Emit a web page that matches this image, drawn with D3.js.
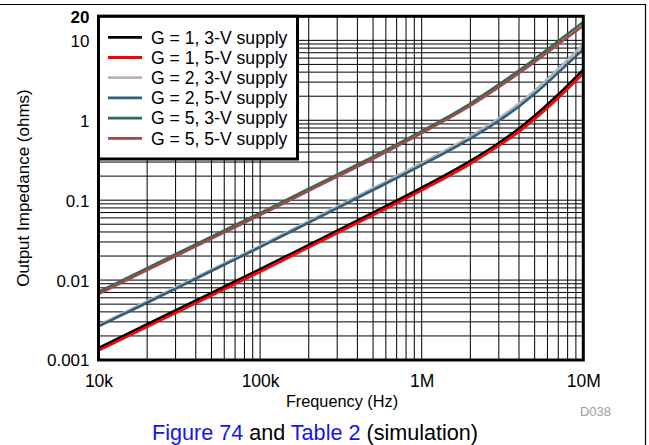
<!DOCTYPE html>
<html>
<head>
<meta charset="utf-8">
<script src="https://cdn.jsdelivr.net/npm/d3@7"></script>
<style>
  html, body { margin: 0; padding: 0; background: #fff; }
  svg { display: block; font-family: "Liberation Sans", Arial, sans-serif; }
</style>
</head>
<body>
<svg id="chart" width="649" height="445"></svg>
<script>
// ---------------- data ----------------
const freqs = [1e4, 2e4, 5e4, 1e5, 2e5, 5e5, 1e6, 2e6, 3e6, 4e6, 5e6, 7e6, 1e7];
const seriesNames = ["G = 1, 3-V supply", "G = 1, 5-V supply", "G = 2, 3-V supply",
                     "G = 2, 5-V supply", "G = 5, 3-V supply", "G = 5, 5-V supply"];
const g1v3 = [0.00141, 0.0028, 0.0069, 0.0137, 0.0276, 0.0698, 0.143, 0.31, 0.52, 0.79, 1.14, 2.1, 4.3];
const g1v5 = [0.00131, 0.0026, 0.0064, 0.0127, 0.0257, 0.065, 0.133, 0.285, 0.48, 0.72, 1.04, 1.9, 3.85];
const g2v3 = [0.00273, 0.0054, 0.0135, 0.0268, 0.0545, 0.141, 0.292, 0.63, 1.06, 1.62, 2.35, 4.4, 8.9];
const g2v5 = [0.00263, 0.0052, 0.013, 0.0258, 0.0525, 0.134, 0.275, 0.59, 0.985, 1.49, 2.14, 3.95, 7.75];
const g5v3 = [0.0071, 0.0141, 0.035, 0.069, 0.139, 0.35, 0.73, 1.62, 2.8, 4.2, 5.85, 9.8, 17];
const g5v5 = [0.0067, 0.0133, 0.033, 0.065, 0.131, 0.33, 0.69, 1.52, 2.6, 3.88, 5.35, 8.95, 15.3];
const seriesColors = ["#000000", "#ff0000", "#b4b4b4", "#2f5f7c", "#2e6e4c", "#a34848"];
const xTickValues = [1e4, 1e5, 1e6, 1e7];
const xTickLabels = ["10k", "100k", "1M", "10M"];
const yTickValues = [0.001, 0.01, 0.1, 1, 10, 20];
const yTickLabels = ["0.001", "0.01", "0.1", "1", "10", "20"];

const allSeries = [g1v3, g1v5, g2v3, g2v5, g5v3, g5v5];

// ---------------- layout ----------------
const svg = d3.select("#chart");
const L = 98.5, R = 583.3, T = 16.3, B = 360;
const x = d3.scaleLog().domain([1e4, 1e7]).range([L, R]);
const y = d3.scaleLog().domain([0.001, 20]).range([B, T]);

// outer frame (top and right edges)
svg.append("path")
  .attr("d", "M0,4.5 L645.5,4.5 L645.5,445")
  .attr("fill", "none").attr("stroke", "#000").attr("stroke-width", 1.2);

// grid lines
const gGrid = svg.append("g");
const xGrid = [];
for (let d = 1e4; d < 1e7; d *= 10) for (let k = 1; k < 10; k++) xGrid.push(d * k);
const yGrid = [];
for (let d = 0.001; d < 20; d *= 10) for (let k = 1; k < 10; k++) { const v = d * k; if (v < 20) yGrid.push(v); }
gGrid.selectAll("line.vx").data(xGrid).join("line")
  .attr("x1", d => x(d)).attr("x2", d => x(d))
  .attr("y1", T).attr("y2", B)
  .attr("stroke", "#000").attr("stroke-width", 1);
gGrid.selectAll("line.hy").data(yGrid).join("line")
  .attr("x1", L).attr("x2", R)
  .attr("y1", d => y(d)).attr("y2", d => y(d))
  .attr("stroke", "#000").attr("stroke-width", 1);

// curves
svg.append("clipPath").attr("id", "clip").append("rect")
  .attr("x", L).attr("y", T).attr("width", R - L).attr("height", B - T);
const line = d3.line().x(d => x(d[0])).y(d => y(d[1])).curve(d3.curveMonotoneX);
const gCurves = svg.append("g").attr("clip-path", "url(#clip)");
allSeries.forEach((vals, i) => {
  gCurves.append("path")
    .attr("d", line(freqs.map((f, j) => [f, vals[j]])))
    .attr("fill", "none").attr("stroke", seriesColors[i]).attr("stroke-width", 2.6);
});

// plot border
svg.append("rect").attr("x", L).attr("y", T).attr("width", R - L).attr("height", B - T)
  .attr("fill", "none").attr("stroke", "#000").attr("stroke-width", 3);

// legend
const lg = svg.append("g");
lg.append("rect").attr("x", 98.5).attr("y", 16.3).attr("width", 199).attr("height", 142.7)
  .attr("fill", "#fff").attr("stroke", "#000").attr("stroke-width", 3);
seriesNames.forEach((name, i) => {
  const cy = 37.3 + i * 20.2;
  lg.append("line").attr("x1", 108).attr("x2", 142).attr("y1", cy).attr("y2", cy)
    .attr("stroke", seriesColors[i]).attr("stroke-width", 2.8);
  lg.append("text").attr("x", 151).attr("y", cy + 6.2).attr("font-size", 17.6)
    .attr("fill", "#000").text(name);
});

// y axis
const yAxis = d3.axisLeft(y).tickValues(yTickValues).tickSize(0).tickPadding(0)
  .tickFormat((d, i) => yTickLabels[i]);
const gy = svg.append("g").attr("transform", "translate(89.5,0)").call(yAxis);
gy.select(".domain").remove();
gy.selectAll("text").attr("font-size", 17).attr("fill", "#000")
  .attr("font-family", "Liberation Sans, Arial, sans-serif")
  .attr("dy", "0.35em").attr("x", 0)
  .attr("font-weight", (d) => d === 20 ? "bold" : "normal");

// x axis
const xAxis = d3.axisBottom(x).tickValues(xTickValues).tickSize(0).tickPadding(0)
  .tickFormat((d, i) => xTickLabels[i]);
const gx = svg.append("g").attr("transform", "translate(0,387)").call(xAxis);
gx.select(".domain").remove();
gx.selectAll("text").attr("font-size", 17.5).attr("fill", "#000")
  .attr("font-family", "Liberation Sans, Arial, sans-serif")
  .attr("dy", 0).attr("y", 0);

// axis titles
svg.append("text").attr("x", 342).attr("y", 407).attr("text-anchor", "middle")
  .attr("font-size", 16.3).attr("fill", "#000").text("Frequency (Hz)");
svg.append("text").attr("transform", "translate(29,188) rotate(-90)")
  .attr("text-anchor", "middle").attr("font-size", 17).attr("fill", "#000")
  .text("Output Impedance (ohms)");
svg.append("text").attr("x", 595.5).attr("y", 416).attr("text-anchor", "middle")
  .attr("font-size", 13).attr("fill", "#a0a0a0").text("D038");

// caption
const cap = svg.append("text").attr("x", 315).attr("y", 439.5).attr("text-anchor", "middle")
  .attr("font-size", 21.6).attr("fill", "#000");
cap.append("tspan").attr("fill", "#1414f0").text("Figure 74");
cap.append("tspan").text(" and ");
cap.append("tspan").attr("fill", "#1414f0").text("Table 2");
cap.append("tspan").text(" (simulation)");
</script>
</body>
</html>
